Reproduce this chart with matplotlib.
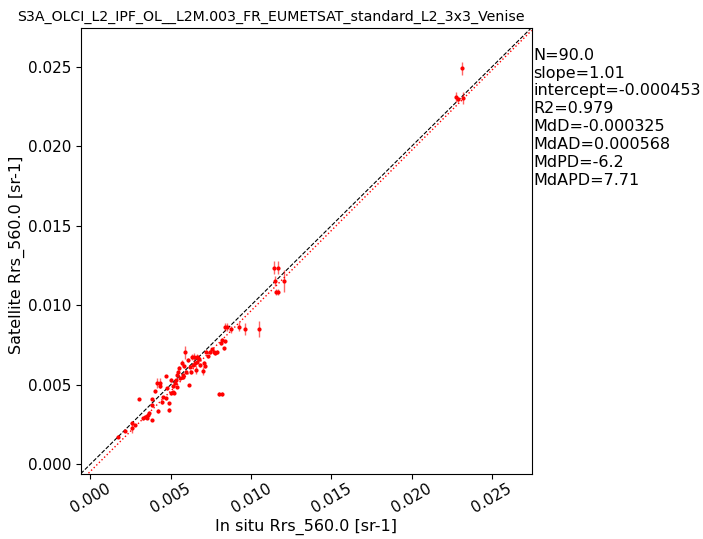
import matplotlib
matplotlib.use('Agg')
import matplotlib.pyplot as plt
import numpy as np

# datos (in situ vs satelite, Rrs_560.0)
insitu = [0.00173, 0.00215, 0.00257, 0.00257, 0.00304, 0.00329, 0.00340, 0.00360, 0.00364, 0.00385,
          0.00381, 0.00402, 0.00414, 0.00430, 0.00421, 0.00454, 0.00469, 0.00491, 0.00491, 0.00500,
          0.00511, 0.00520, 0.00526, 0.00537, 0.00531, 0.00537, 0.00568, 0.00574, 0.00578, 0.00591,
          0.00614, 0.00620, 0.00632, 0.00645, 0.00664, 0.00670, 0.00651, 0.00662, 0.00657, 0.00682,
          0.00699, 0.00707, 0.00720, 0.00769, 0.00776, 0.00786, 0.00802, 0.00819, 0.00811, 0.00832,
          0.00836, 0.00838, 0.00849, 0.00874, 0.00922, 0.00963, 0.01052, 0.01143, 0.01170, 0.01150,
          0.01156, 0.01170, 0.01206, 0.02275, 0.02290, 0.02319, 0.02313, 0.00433, 0.00477, 0.00502,
          0.00514, 0.00545, 0.00551, 0.00595, 0.00607, 0.00626, 0.00639, 0.00676, 0.00713, 0.00732,
          0.00745, 0.00757, 0.00352, 0.00383, 0.00445, 0.00470, 0.00558, 0.00583, 0.00277, 0.00819]
satellite = [0.00172, 0.00208, 0.00226, 0.00258, 0.00409, 0.00289, 0.00297, 0.00308, 0.00321, 0.00277,
             0.00409, 0.00459, 0.00511, 0.00511, 0.00333, 0.00423, 0.00555, 0.00382, 0.00340, 0.00447,
             0.00453, 0.00447, 0.00509, 0.00486, 0.00528, 0.00560, 0.00637, 0.00560, 0.00547, 0.00703,
             0.00497, 0.00612, 0.00673, 0.00673, 0.00673, 0.00667, 0.00635, 0.00643, 0.00591, 0.00623,
             0.00587, 0.00637, 0.00706, 0.00706, 0.00696, 0.00706, 0.00440, 0.00440, 0.00763, 0.00728,
             0.00774, 0.00864, 0.00865, 0.00847, 0.00865, 0.00851, 0.00851, 0.01237, 0.01237, 0.01153,
             0.01084, 0.01084, 0.01153, 0.02311, 0.02297, 0.02304, 0.02492, 0.00491, 0.00478, 0.00528,
             0.00491, 0.00579, 0.00604, 0.00579, 0.00654, 0.00579, 0.00623, 0.00660, 0.00616, 0.00679,
             0.00704, 0.00723, 0.00289, 0.00371, 0.00390, 0.00415, 0.00541, 0.00616, 0.00245, 0.00780]
satellite_err = [0.00008, 0.00008, 0.00030, 0.00010, 0.00006, 0.00010, 0.00008, 0.00010, 0.00010, 0.00008,
                 0.00006, 0.00010, 0.00030, 0.00030, 0.00012, 0.00008, 0.00008, 0.00008, 0.00010, 0.00010,
                 0.00008, 0.00008, 0.00012, 0.00010, 0.00010, 0.00012, 0.00020, 0.00010, 0.00010, 0.00040,
                 0.00008, 0.00010, 0.00020, 0.00025, 0.00020, 0.00020, 0.00010, 0.00010, 0.00025, 0.00010,
                 0.00025, 0.00010, 0.00010, 0.00010, 0.00010, 0.00012, 0.00012, 0.00012, 0.00012, 0.00010,
                 0.00010, 0.00025, 0.00025, 0.00020, 0.00030, 0.00040, 0.00050, 0.00040, 0.00040, 0.00030,
                 0.00020, 0.00020, 0.00070, 0.00030, 0.00015, 0.00040, 0.00040, 0.00010, 0.00010, 0.00012,
                 0.00010, 0.00010, 0.00015, 0.00010, 0.00012, 0.00010, 0.00010, 0.00012, 0.00010, 0.00010,
                 0.00012, 0.00010, 0.00008, 0.00010, 0.00010, 0.00010, 0.00010, 0.00012, 0.00008, 0.00015]
insitu_err = [0.00006] * 90

titulo = 'S3A_OLCI_L2_IPF_OL__L2M.003_FR_EUMETSAT_standard_L2_3x3_Venise'
stats = ['N=90.0', 'slope=1.01', 'intercept=-0.000453', 'R2=0.979',
         'MdD=-0.000325', 'MdAD=0.000568', 'MdPD=-6.2', 'MdAPD=7.71']
slope = 1.01
intercept = -0.000453
lim = [-0.00061, 0.02748]

fig = plt.figure(figsize=(7.03, 5.39), dpi=100)
ax = fig.add_axes([0.1148, 0.1211, 0.6415, 0.8278])

# puntos con barras de error
ax.errorbar(insitu, satellite, xerr=insitu_err, yerr=satellite_err, fmt='.', color='red',
            ms=4, elinewidth=1, ecolor=(1, 0, 0, 0.6), zorder=3)

# linea 1:1 y regresion
ax.plot(lim, lim, 'k--', lw=0.8)
xr = np.array(lim)
ax.plot(xr, slope * xr + intercept, color='red', ls=':', lw=1)

ax.set_xlim(lim)
ax.set_ylim(lim)
ax.set_xticks([0, 0.005, 0.01, 0.015, 0.02, 0.025])
ax.set_yticks([0, 0.005, 0.01, 0.015, 0.02, 0.025])
ax.tick_params(labelsize=11)
ax.tick_params(axis='x', pad=2)
plt.setp(ax.get_xticklabels(), rotation=30)
ax.set_xlabel('In situ Rrs_560.0 [sr-1]', fontsize=11.5)
ax.set_ylabel('Satellite Rrs_560.0 [sr-1]', fontsize=11.5)
ax.xaxis.set_label_coords(0.5, -0.100)
ax.yaxis.set_label_coords(-0.123, 0.49)

ax.text(1.003, 0.955, '\n'.join(stats), transform=ax.transAxes, va='top', ha='left',
        fontsize=11.5, linespacing=1.24)
fig.text(271 / 703, 1 - 16.5 / 539, titulo, ha='center', va='center', fontsize=10.2)

fig.savefig('out.png', dpi=100)
